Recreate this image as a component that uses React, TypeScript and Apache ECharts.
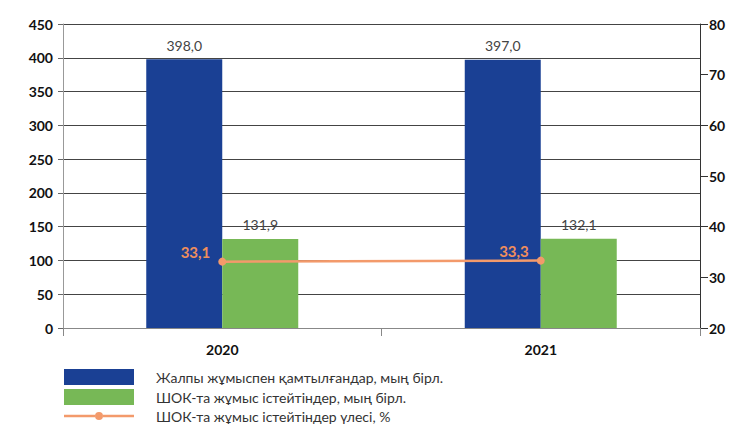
import React, { useEffect, useRef } from "react";
import * as echarts from "echarts";

const categories = ["2020", "2021"];
const totalEmployed = [398.0, 397.0];
const smeEmployed = [131.9, 132.1];
const smeShare = [33.1, 33.3];
const seriesNames = [
  "Жалпы жұмыспен қамтылғандар, мың бірл.",
  "ШОК-та жұмыс істейтіндер, мың бірл.",
  "ШОК-та жұмыс істейтіндер үлесі, %",
];

const fmt = (v: number) => v.toFixed(1).replace(".", ",");
const FONT = "Lato";
const lineIcon =
  "path://M0,6.75L31,6.75L31,9.25L0,9.25Z M39,6.75L70,6.75L70,9.25L39,9.25Z M31,8A4,4 0 1,1 39,8A4,4 0 1,1 31,8Z";

export default function App() {
  const ref = useRef<HTMLDivElement>(null);
  useEffect(() => {
    if (!ref.current) return;
    const chart = echarts.init(ref.current, undefined, { renderer: "svg" });
    chart.setOption({
      animation: false,
      textStyle: { fontFamily: FONT },
      grid: { left: 55, right: 38, top: 16, bottom: 100 },
      legend: {
        orient: "vertical",
        left: 51,
        top: 356,
        height: 64,
        itemWidth: 70,
        itemHeight: 16,
        itemGap: 4,
        textStyle: { fontSize: 14, color: "#333", padding: [0, 0, 0, 17], fontFamily: FONT },
        data: [
          { name: seriesNames[0], icon: "rect" },
          { name: seriesNames[1], icon: "rect" },
          { name: seriesNames[2], icon: lineIcon },
        ],
      },
      xAxis: {
        type: "category",
        data: categories,
        axisLine: { show: true, lineStyle: { color: "#888", width: 1 } },
        axisTick: { show: true, length: 8, lineStyle: { color: "#888" } },
        axisLabel: { fontSize: 14, fontWeight: "bold", color: "#111", margin: 14 },
      },
      yAxis: [
        {
          type: "value",
          min: 0,
          max: 450,
          interval: 50,
          axisLine: { show: true, lineStyle: { color: "#999" } },
          axisTick: { show: true, length: 5, lineStyle: { color: "#666" } },
          axisLabel: { fontSize: 14, fontWeight: "bold", color: "#111", margin: 10 },
          splitLine: { show: true, lineStyle: { color: "#444", width: 1 } },
        },
        {
          type: "value",
          min: 20,
          max: 80,
          interval: 10,
          position: "right",
          axisLine: { show: true, lineStyle: { color: "#333" } },
          axisTick: { show: true, length: 8, lineStyle: { color: "#333" } },
          axisLabel: { fontSize: 14, fontWeight: "bold", color: "#111", margin: 9 },
          splitLine: { show: false },
        },
      ],
      series: [
        {
          name: seriesNames[0],
          type: "bar",
          data: totalEmployed,
          barWidth: 76,
          barGap: "0%",
          itemStyle: { color: "#1A4094" },
          label: {
            show: true,
            position: "top",
            distance: 7,
            fontSize: 14,
            color: "#444",
            formatter: (p: any) => fmt(p.value),
          },
        },
        {
          name: seriesNames[1],
          type: "bar",
          data: smeEmployed,
          barWidth: 76,
          barGap: "0%",
          itemStyle: { color: "#77B856" },
          label: {
            show: true,
            position: "top",
            distance: 7,
            fontSize: 14,
            color: "#444",
            formatter: (p: any) => fmt(p.value),
          },
        },
        {
          name: seriesNames[2],
          type: "line",
          yAxisIndex: 1,
          data: smeShare,
          symbol: "circle",
          symbolSize: 8,
          lineStyle: { color: "#F39A6B", width: 2.5 },
          itemStyle: { color: "#F39A6B" },
          label: {
            show: true,
            position: "left",
            distance: 6,
            offset: [-2, -10],
            fontSize: 15,
            fontWeight: "bold",
            color: "#F08E5C",
            formatter: (p: any) => fmt(p.value),
          },
        },
      ],
    });
    return () => chart.dispose();
  }, []);
  return <div ref={ref} style={{ width: 730, height: 420 }} />;
}
